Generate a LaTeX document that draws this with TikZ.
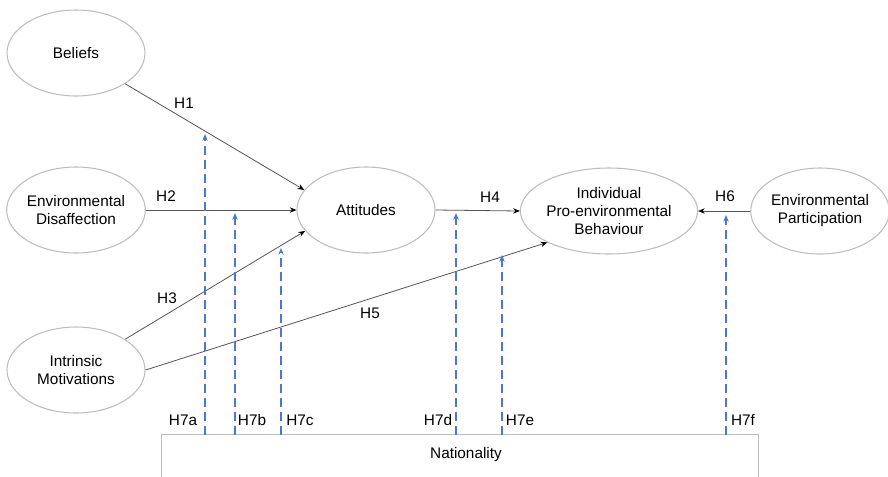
\documentclass[tikz,border=0pt]{standalone}
\usepackage{fontspec}
\setmainfont{Liberation Sans}
\usetikzlibrary{shapes.geometric,arrows.meta}
\definecolor{ellgray}{HTML}{BDBDBD}
\definecolor{linegray}{HTML}{555555}
\definecolor{modblue}{HTML}{4A78CC}
\begin{document}
\begin{tikzpicture}[x=0.75pt,y=-0.75pt,
  construct/.style={ellipse,draw=ellgray,line width=0.8pt,minimum width=103.5pt,minimum height=64.5pt,inner sep=0pt,align=center,font=\fontsize{11.5}{13.5}\selectfont},
  hyp/.style={draw=linegray,line width=0.6pt,-{Stealth[length=5pt,width=4pt,color=black]}},
  modarrow/.style={draw=modblue,line width=1.1pt,dash pattern=on 6.75pt off 3.75pt,-{Stealth[length=5pt,width=4pt]}},
  lab/.style={font=\fontsize{11.5}{13.5}\selectfont,inner sep=0pt}
]
\useasboundingbox (0,0) rectangle (888,476);
\begin{scope}
\clip (0,0) rectangle (888,476);

% constructs
\node[construct] (bel) at (76,53) {Beliefs};
\node[construct] (dis) at (76,210) {Environmental\\Disaffection};
\node[construct] (intr) at (76,370) {Intrinsic\\Motivations};
\node[construct] (att) at (366,210) {Attitudes};
\node[construct] (ipb) at (609,211) {Individual\\Pro-environmental\\Behaviour};
\node[construct] (par) at (820,211) {Environmental\\Participation};

% moderator box (its bottom edge lies outside the picture)
\node[rectangle,minimum width=447pt,minimum height=90pt,inner sep=0pt] (natbox) at (460,495) {};
\draw[ellgray,line width=0.8pt] (natbox.south west) |- (natbox.north east) -- (natbox.south east);
\node[lab] (nat) at (466,455) {Nationality};

% hypotheses
\draw[hyp] (bel.south east) -- (att.162);
\draw[hyp] (dis.east) -- (att.west);
\draw[hyp] (intr.north east) -- (att.199);
\draw[hyp] (intr.east) -- (ipb.207);
\draw[hyp] (att.east) -- (ipb.west);
\draw[hyp] (par.west) -- (ipb.east);

\node[lab] (h1) at (184,103) {H1};
\node[lab] (h2) at (166,196) {H2};
\node[lab] (h3) at (167,298) {H3};
\node[lab] (h4) at (490,197) {H4};
\node[lab] (h5) at (370,313) {H5};
\node[lab] (h6) at (725,196) {H6};

% moderation arrows
\coordinate (ma) at (205,435); \coordinate (ta) at (205,134);
\coordinate (mb) at (235,435); \coordinate (tb) at (235,213);
\coordinate (mc) at (281,435); \coordinate (tc) at (281,248);
\coordinate (md) at (456,435); \coordinate (td) at (456,213);
\coordinate (me) at (502,435); \coordinate (te) at (502,255);
\coordinate (mf) at (726,435); \coordinate (tf) at (726,215);
\draw[modarrow] (ma) -- (ta);
\draw[modarrow] (mb) -- (tb);
\draw[modarrow] (mc) -- (tc);
\draw[modarrow] (md) -- (td);
\draw[modarrow] (me) -- (te);
\draw[modarrow] (mf) -- (tf);

\node[lab] (h7a) at (183,420) {H7a};
\node[lab] (h7b) at (252,420) {H7b};
\node[lab] (h7c) at (300,420) {H7c};
\node[lab] (h7d) at (438,420) {H7d};
\node[lab] (h7e) at (520,420) {H7e};
\node[lab] (h7f) at (743,420) {H7f};
\end{scope}
\end{tikzpicture}
\end{document}
